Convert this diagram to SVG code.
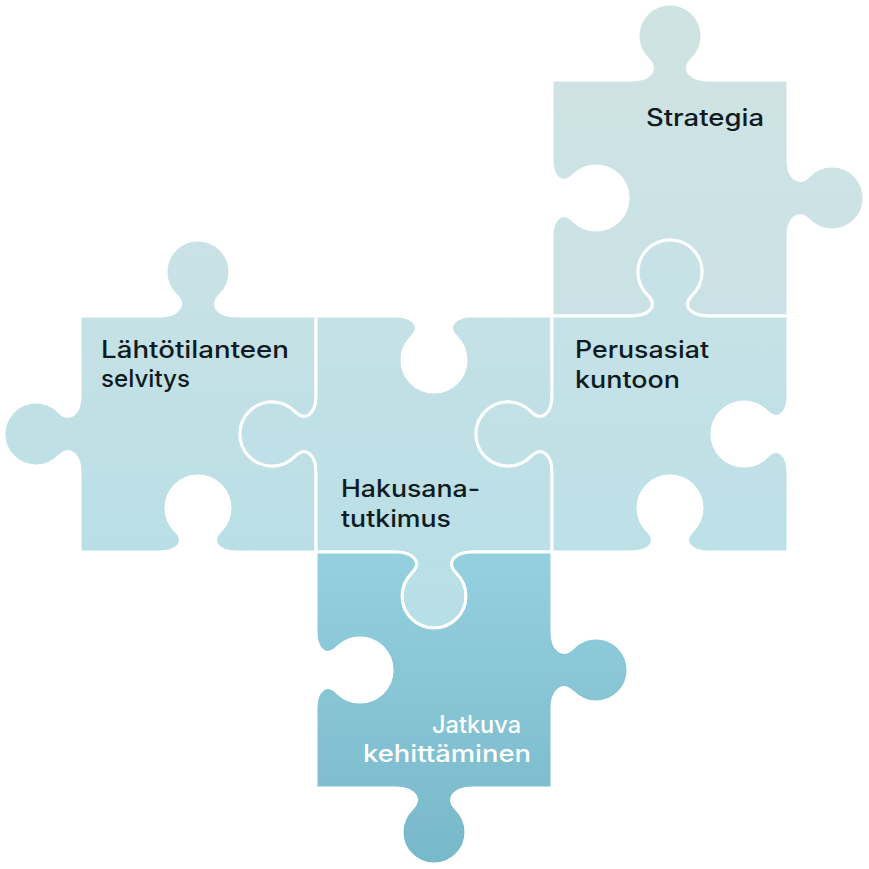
<svg xmlns="http://www.w3.org/2000/svg" width="869" height="869" viewBox="0 0 869 869">
<style>
.pc{stroke:#ffffff;stroke-width:3;stroke-linejoin:round}
.lb{font-family:Inter,"Noto Sans","DejaVu Sans",sans-serif;font-size:24px;font-weight:500;fill:#0f1b21}
.lw{fill:#ffffff}
</style>
<defs>
<linearGradient id="gS" x1="0" y1="0" x2="0" y2="1"><stop offset="0" stop-color="#d0e3e3"/><stop offset="1" stop-color="#cae2e5"/></linearGradient>
<linearGradient id="gL" x1="0" y1="0" x2="0" y2="1"><stop offset="0" stop-color="#cae2e5"/><stop offset="1" stop-color="#b9dfe6"/></linearGradient>
<linearGradient id="gH" x1="0" y1="0" x2="0" y2="1"><stop offset="0" stop-color="#c4e1e6"/><stop offset="1" stop-color="#b7dfe7"/></linearGradient>
<linearGradient id="gP" x1="0" y1="0" x2="0" y2="1"><stop offset="0" stop-color="#c8e2e6"/><stop offset="1" stop-color="#bde0e7"/></linearGradient>
<linearGradient id="gJ" x1="0" y1="0" x2="0" y2="1"><stop offset="0" stop-color="#95d0df"/><stop offset="1" stop-color="#77b8c9"/></linearGradient>
</defs>
<rect width="869" height="869" fill="#ffffff"/>
<g id="strategia">
<path class="pc" fill="url(#gS)" d="M552,80 L632,80 C648,80 659.4,70.6 647.4,58.6 A32 32 0 1 1 692.6,58.6 C680.6,70.6 692,80 708,80 L788,80 L788,160 C788,176 797.4,187.4 809.4,175.4 A32 32 0 1 1 809.4,220.6 C797.4,208.6 788,220 788,236 L788,316 L708,316 C692,316 680.6,306.6 692.6,294.6 A32 32 0 1 0 647.4,294.6 C659.4,306.6 648,316 632,316 L552,316 L552,236 C552,220 561.4,208.6 573.4,220.6 A32 32 0 1 0 573.4,175.4 C561.4,187.4 552,176 552,160 Z"/>
<text class="lb" x="646" y="126" textLength="118" lengthAdjust="spacingAndGlyphs">Strategia</text>
</g>
<g id="lahtotilanteen">
<path class="pc" fill="url(#gL)" d="M80,316 L160,316 C176,316 187.4,306.6 175.4,294.6 A32 32 0 1 1 220.6,294.6 C208.6,306.6 220,316 236,316 L316,316 L316,396 C316,412 306.6,423.4 294.6,411.4 A32 32 0 1 0 294.6,456.6 C306.6,444.6 316,456 316,472 L316,552 L236,552 C220,552 208.6,542.6 220.6,530.6 A32 32 0 1 0 175.4,530.6 C187.4,542.6 176,552 160,552 L80,552 L80,472 C80,456 70.6,444.6 58.6,456.6 A32 32 0 1 1 58.6,411.4 C70.6,423.4 80,412 80,396 Z"/>
<text class="lb" x="101" y="358" textLength="188" lengthAdjust="spacingAndGlyphs">Lähtötilanteen</text>
<text class="lb" x="101" y="387" textLength="89" lengthAdjust="spacingAndGlyphs">selvitys</text>
</g>
<g id="hakusana">
<path class="pc" fill="url(#gH)" d="M316,316 L396,316 C412,316 423.4,325.4 411.4,337.4 A32 32 0 1 0 456.6,337.4 C444.6,325.4 456,316 472,316 L552,316 L552,396 C552,412 542.6,423.4 530.6,411.4 A32 32 0 1 0 530.6,456.6 C542.6,444.6 552,456 552,472 L552,552 L472,552 C456,552 444.6,561.4 456.6,573.4 A32 32 0 1 1 411.4,573.4 C423.4,561.4 412,552 396,552 L316,552 L316,472 C316,456 306.6,444.6 294.6,456.6 A32 32 0 1 1 294.6,411.4 C306.6,423.4 316,412 316,396 Z"/>
<text class="lb" x="341" y="497" textLength="139" lengthAdjust="spacingAndGlyphs">Hakusana-</text>
<text class="lb" x="341" y="527" textLength="110" lengthAdjust="spacingAndGlyphs">tutkimus</text>
</g>
<g id="perusasiat">
<path class="pc" fill="url(#gP)" d="M552,316 L632,316 C648,316 659.4,306.6 647.4,294.6 A32 32 0 1 1 692.6,294.6 C680.6,306.6 692,316 708,316 L788,316 L788,396 C788,412 778.6,423.4 766.6,411.4 A32 32 0 1 0 766.6,456.6 C778.6,444.6 788,456 788,472 L788,552 L708,552 C692,552 680.6,542.6 692.6,530.6 A32 32 0 1 0 647.4,530.6 C659.4,542.6 648,552 632,552 L552,552 L552,472 C552,456 542.6,444.6 530.6,456.6 A32 32 0 1 1 530.6,411.4 C542.6,423.4 552,412 552,396 Z"/>
<text class="lb" x="575" y="358" textLength="134" lengthAdjust="spacingAndGlyphs">Perusasiat</text>
<text class="lb" x="575" y="388" textLength="105" lengthAdjust="spacingAndGlyphs">kuntoon</text>
</g>
<g id="jatkuva">
<path class="pc" fill="url(#gJ)" d="M316,552 L396,552 C412,552 423.4,561.4 411.4,573.4 A32 32 0 1 0 456.6,573.4 C444.6,561.4 456,552 472,552 L552,552 L552,632 C552,648 561.4,659.4 573.4,647.4 A32 32 0 1 1 573.4,692.6 C561.4,680.6 552,692 552,708 L552,788 L472,788 C456,788 444.6,797.4 456.6,809.4 A32 32 0 1 1 411.4,809.4 C423.4,797.4 412,788 396,788 L316,788 L316,708 C316,692 325.4,680.6 337.4,692.6 A32 32 0 1 0 337.4,647.4 C325.4,659.4 316,648 316,632 Z"/>
<text class="lb lw" x="432" y="733" textLength="89" lengthAdjust="spacingAndGlyphs">Jatkuva</text>
<text class="lb lw" x="363" y="762" textLength="168" lengthAdjust="spacingAndGlyphs">kehittäminen</text>
</g>
<g id="connectors"></g>
</svg>
